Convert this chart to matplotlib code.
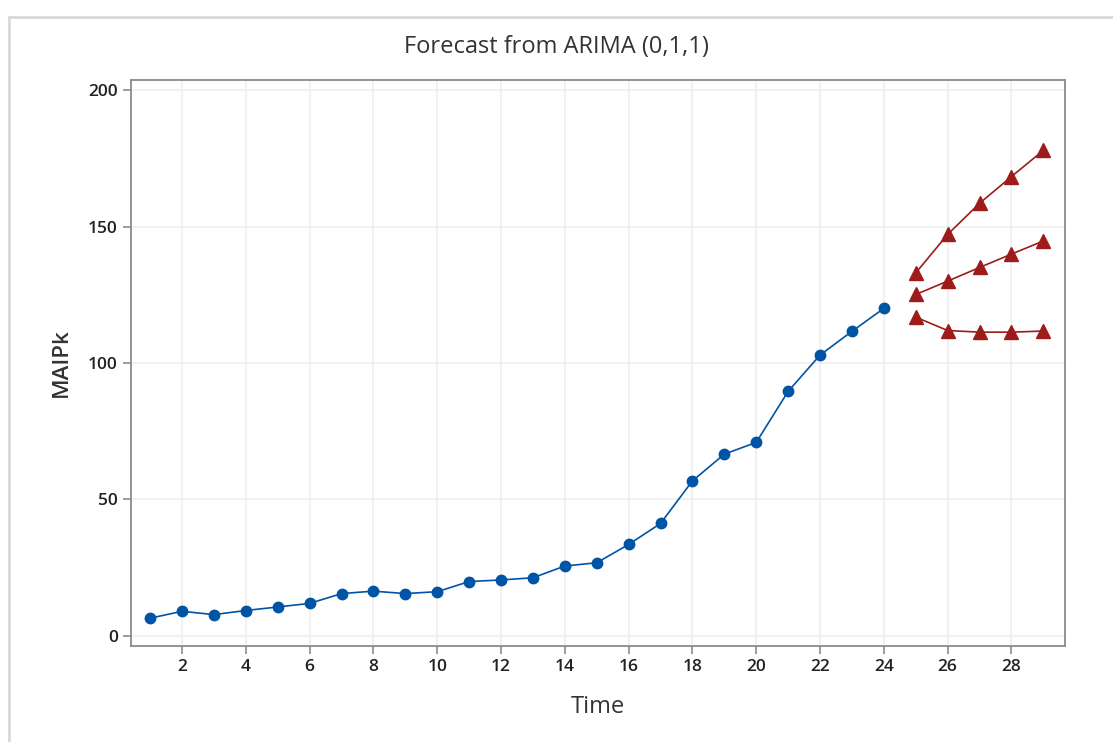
import matplotlib.pyplot as plt
from matplotlib.patches import Rectangle

# observed series
time = list(range(1, 25))
maipk = [6.5, 9.0, 7.8, 9.3, 10.6, 11.9, 15.5, 16.4, 15.5, 16.2, 19.9, 20.5,
         21.3, 25.6, 26.8, 33.5, 41.2, 56.8, 66.6, 70.9, 89.6, 102.9, 111.6, 120.0]

# forecast and its limits
time_fc = [25, 26, 27, 28, 29]
upper = [133.0, 147.1, 158.5, 168.3, 177.9]
forecast = [125.1, 130.0, 135.0, 139.9, 144.7]
lower = [116.8, 111.9, 111.3, 111.3, 111.7]

xticks = list(range(2, 30, 2))
yticks = [0, 50, 100, 150, 200]

blue = '#0054a6'
red = '#9e1b1b'

plt.rcParams['font.family'] = ['Open Sans', 'DejaVu Sans']

fig = plt.figure(figsize=(11.13, 7.42), dpi=100)
fig.patches.append(Rectangle((0.008, -0.01), 1.0, 0.987, transform=fig.transFigure,
                             fill=False, edgecolor='#d8d8d8', linewidth=2))
ax = fig.add_axes([0.1177, 0.1294, 0.8392, 0.7628])

ax.plot(time, maipk, color=blue, lw=1.2, marker='o', ms=7.5, zorder=3)
for s in (upper, forecast, lower):
    ax.plot(time_fc, s, color=red, lw=1.2, marker='^', ms=9.5, zorder=3)

ax.set_xlim(0.4, 29.68)
ax.set_ylim(-3.7, 203.7)
ax.set_xticks(xticks)
ax.set_yticks(yticks)
ax.grid(True, color='#efefef', lw=1.2)
ax.set_axisbelow(True)
for sp in ax.spines.values():
    sp.set_color('#8a8a8a')
    sp.set_linewidth(1.3)
ax.tick_params(colors='#8a8a8a', length=6, width=1.2, labelcolor='#222222',
               labelsize=12.5)
for lab in ax.get_xticklabels() + ax.get_yticklabels():
    lab.set_fontweight('semibold')

ax.set_xlabel('Time', fontsize=17, color='#333333', labelpad=14)
ax.set_ylabel('MAIPk', fontsize=16, color='#333333', labelpad=12,
              fontweight='semibold')
fig.text(0.5, 0.936, 'Forecast from ARIMA (0,1,1)', ha='center', va='center',
         fontsize=17, color='#333333')

fig.savefig('out.png', dpi=100)
